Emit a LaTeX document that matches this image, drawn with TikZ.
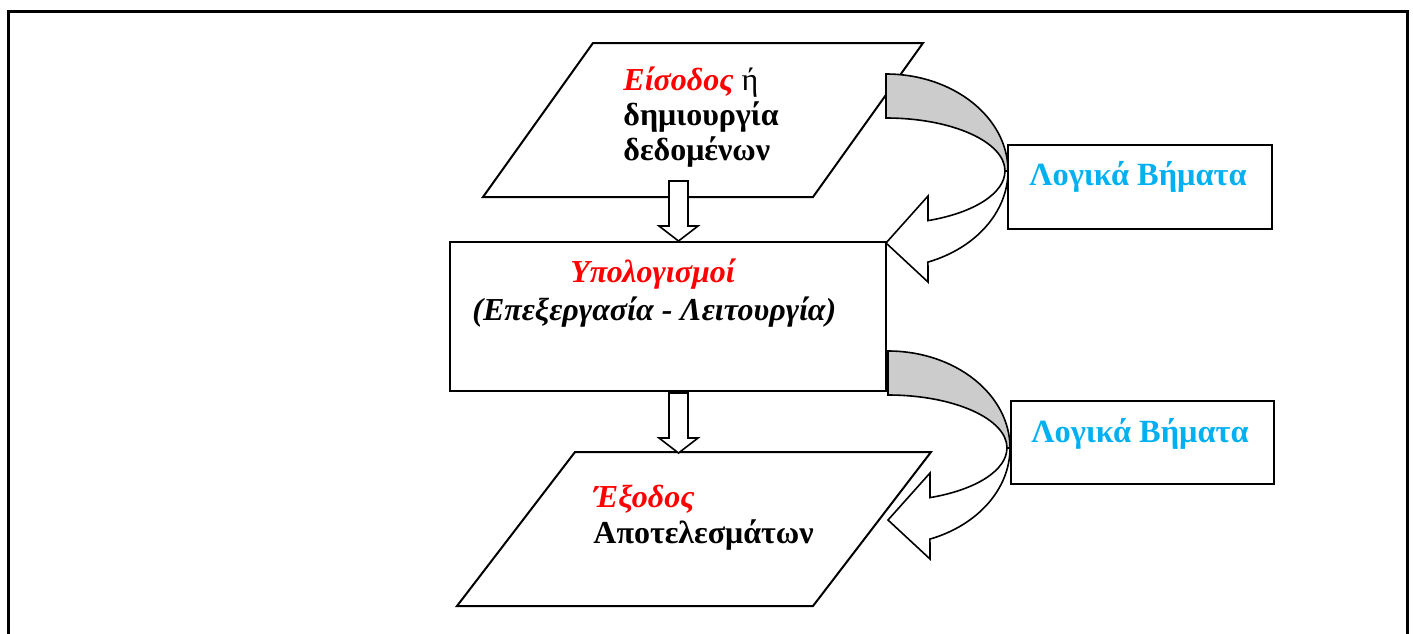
\documentclass[tikz,border=0pt]{standalone}
\usepackage{fontspec}
\setmainfont{Liberation Serif}
\usetikzlibrary{calc}
\definecolor{calcred}{HTML}{FF0000}
\definecolor{stepblue}{HTML}{00B0F0}
\definecolor{backgrey}{HTML}{CCCCCC}
\tikzset{
  txt/.style={font=\fontsize{16pt}{17.5pt}\selectfont, inner sep=0pt, anchor=base west},
  steptxt/.style={font=\fontsize{16.2pt}{17.5pt}\selectfont\bfseries, text=stepblue, inner sep=0pt, anchor=base},
  stepbox/.style={draw, line width=1pt, inner sep=0pt, minimum width=132pt, minimum height=42pt},
  downblock/.pic={
    \draw[line width=0.8pt, fill=white] (-9.5,-60) -- (9.5,-60) -- (9.5,-15) -- (19.5,-15)
      -- (0,0) -- (-19.5,-15) -- (-9.5,-15) -- cycle;
  },
  bentarrow/.pic={
    \draw[line width=0.8pt, fill=backgrey] (0,-97) arc[start angle=-90, end angle=0, x radius=122, y radius=97]
      -- (119,0) arc[start angle=0, end angle=-90, x radius=119, y radius=53] -- cycle;
    \draw[line width=0.8pt, fill=white] (122,0) arc[start angle=0, end angle=69.9, x radius=122, y radius=97]
      -- (42,111) -- (0,72) -- (42,25) -- (42,49.6)
      arc[start angle=69.3, end angle=0, x radius=119, y radius=53] -- cycle;
  }
}
\begin{document}
\begin{tikzpicture}[x=0.5pt, y=-0.5pt]
  \useasboundingbox (0,0) rectangle (1413,633);
  % frame, open at the bottom
  \draw[line width=1.5pt] (8.5,634) -- (8.5,11.5) -- (1407,11.5) -- (1407,634);

  % input and output parallelograms
  \draw[line width=1pt] (593,43) coordinate (inNW) -- (923,43) -- (813,197) -- (483,197) -- cycle;
  \draw[line width=1pt] (575,452) coordinate (outNW) -- (931,452) -- (813,606) -- (457,606) -- cycle;

  % processing box
  \node[draw, line width=1pt, inner sep=0pt, minimum width=218pt, minimum height=74.5pt] (compute) at (668,316.5) {};

  \node[txt] (in1) at (623,90) {\textcolor{calcred}{\bfseries\itshape Είσοδος} ή};
  \node[txt, font=\fontsize{16pt}{17.5pt}\selectfont\bfseries] (in2) at (623,125) {δημιουργία};
  \node[txt, font=\fontsize{16pt}{17.5pt}\selectfont\bfseries] (in3) at (623,160) {δεδομένων};

  \node[txt, font=\fontsize{16pt}{17.5pt}\selectfont\bfseries\itshape, text=calcred] (comp1) at (570,282) {Υπολογισμοί};
  \node[txt, font=\fontsize{16pt}{17.5pt}\selectfont\bfseries\itshape] (comp2) at (472,320) {(Επεξεργασία - Λειτουργία)};

  \node[txt, font=\fontsize{16pt}{17.5pt}\selectfont\bfseries\itshape, text=calcred] (out1) at (593,507) {Έξοδος};
  \node[txt, font=\fontsize{16pt}{17.5pt}\selectfont\bfseries] (out2) at (593,543) {Αποτελεσμάτων};

  % flow arrows
  \pic at ($(compute.north)+(10.5,0)$) {downblock};
  \pic at ($(compute.south)+(10.5,61)$) {downblock};

  % logical steps
  \pic at ($(compute.north east)+(-1,-70)$) {bentarrow};
  \pic at ($(compute.south east)+(1,56)$) {bentarrow};

  \node[stepbox] (step1) at (1140,187) {};
  \node[steptxt] (step1txt) at (1138,185) {Λογικά Βήματα};
  \node[stepbox, minimum width=131.5pt, minimum height=41.5pt] (step2) at (1142.5,442.5) {};
  \node[steptxt] (step2txt) at (1140,442) {Λογικά Βήματα};
\end{tikzpicture}
\end{document}
